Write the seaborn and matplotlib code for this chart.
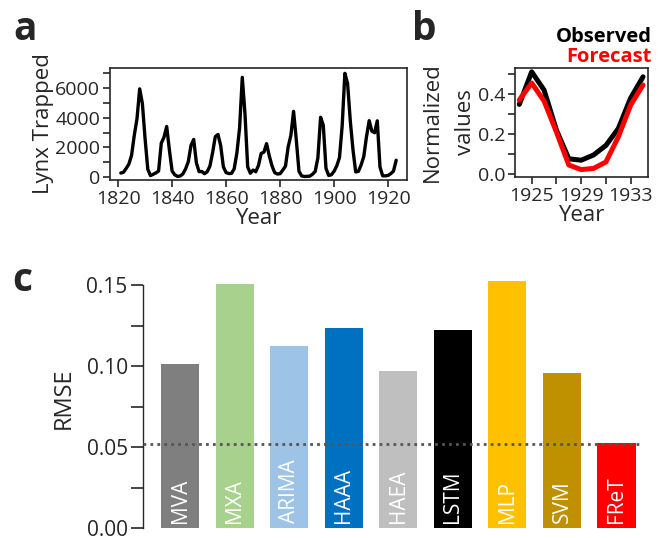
import numpy as np
import pandas as pd
import seaborn as sns
import matplotlib.pyplot as plt
from matplotlib.ticker import MultipleLocator, FormatStrFormatter

# Panel a: annual lynx trappings 1821-1923
lynx_years = list(range(1821, 1924))
lynx_counts = [269, 321, 585, 871, 1475, 2821, 3928, 5943, 4950, 2577,
               523, 98, 184, 279, 409, 2285, 2685, 3409, 1824, 409,
               151, 45, 68, 213, 546, 1033, 2129, 2536, 957, 361,
               377, 225, 360, 731, 1638, 2725, 2871, 2119, 684, 299,
               236, 245, 552, 1623, 3311, 6721, 4254, 687, 255, 473,
               358, 784, 1594, 1676, 2251, 1426, 756, 299, 201, 229,
               469, 736, 2042, 2811, 4431, 2511, 389, 73, 39, 49,
               59, 188, 377, 1292, 4031, 3495, 587, 105, 153, 387,
               758, 1307, 3465, 6991, 6313, 3794, 1836, 345, 382, 808,
               1388, 2713, 3800, 3091, 2985, 3790, 674, 81, 80, 108,
               229, 399, 1132]

# Panel b: normalized test window
test_years = list(range(1924, 1935))
observed = [0.348, 0.511, 0.420, 0.220, 0.076, 0.069, 0.095, 0.143, 0.227, 0.380, 0.486]
forecast = [0.37, 0.455, 0.365, 0.21, 0.045, 0.022, 0.028, 0.06, 0.185, 0.345, 0.445]

# Panel c: RMSE per model
models = ["MVA", "MXA", "ARIMA", "HAAA", "HAEA", "LSTM", "MLP", "SVM", "FReT"]
rmse = [0.1014, 0.1510, 0.1125, 0.1235, 0.0967, 0.1223, 0.1527, 0.0960, 0.0525]
bar_colors = ["#7f7f7f", "#a9d18e", "#9dc3e6", "#0070c0", "#bfbfbf",
              "#000000", "#ffc000", "#bf9000", "#ff0000"]
fret_level = 0.0517

sns.set_style("ticks")
plt.rcParams["font.family"] = ["Open Sans", "DejaVu Sans"]
plt.rcParams["axes.linewidth"] = 1.2
for k in ["xtick.major.width", "ytick.major.width", "xtick.minor.width", "ytick.minor.width"]:
    plt.rcParams[k] = 1.2

fig = plt.figure(figsize=(6.65, 5.38), dpi=100)

# ---- a
ax_a = fig.add_axes([0.1654, 0.6654, 0.4466, 0.2082])
df_a = pd.DataFrame({"Year": lynx_years, "Lynx": lynx_counts})
sns.lineplot(data=df_a, x="Year", y="Lynx", ax=ax_a, color="black", lw=2.4)
ax_a.set_xlim(1817, 1927)
ax_a.set_ylim(-200, 7350)
ax_a.xaxis.set_major_locator(MultipleLocator(20))
ax_a.yaxis.set_major_locator(MultipleLocator(2000))
ax_a.yaxis.set_minor_locator(MultipleLocator(1000))
ax_a.tick_params(which="both", direction="out", length=5, labelsize=14, pad=2)
ax_a.set_xlabel("Year", fontsize=16, labelpad=0)
ax_a.set_ylabel("Lynx Trapped", fontsize=16, labelpad=1)
fig.text(0.02, 0.925, "a", fontsize=28, fontweight="bold")

# ---- b
ax_b = fig.add_axes([0.7744, 0.671, 0.2, 0.2026])
df_b = pd.DataFrame({"Year": test_years + test_years,
                     "value": observed + forecast,
                     "kind": ["Observed"] * len(test_years) + ["Forecast"] * len(test_years)})
sns.lineplot(data=df_b, x="Year", y="value", hue="kind",
             palette={"Observed": "black", "Forecast": "#ff0000"},
             ax=ax_b, lw=3.6, legend=False)
ax_b.set_xlim(1923.65, 1934.4)
ax_b.set_ylim(-0.015, 0.53)
ax_b.set_xticks([1925, 1929, 1933])
ax_b.set_xticks([1927, 1931], minor=True)
ax_b.yaxis.set_major_locator(MultipleLocator(0.2))
ax_b.yaxis.set_minor_locator(MultipleLocator(0.1))
ax_b.yaxis.set_major_formatter(FormatStrFormatter("%.1f"))
ax_b.tick_params(which="both", direction="out", length=5, labelsize=14, pad=2)
ax_b.set_xlabel("Year", fontsize=16, labelpad=0)
ax_b.set_ylabel("Normalized\nvalues", fontsize=16, labelpad=1, linespacing=1.8)
ax_b.text(1.03, 1.19, "Observed", transform=ax_b.transAxes, ha="right", va="bottom",
          fontsize=14.5, fontweight="bold", color="black")
ax_b.text(1.03, 1.01, "Forecast", transform=ax_b.transAxes, ha="right", va="bottom",
          fontsize=14.5, fontweight="bold", color="#ff0000")
fig.text(0.62, 0.925, "b", fontsize=28, fontweight="bold")

# ---- c
ax_c = fig.add_axes([0.215, 0.0186, 0.749, 0.4814])
sns.barplot(x=models, y=rmse, hue=models, palette=bar_colors, legend=False,
            width=0.7, ax=ax_c, saturation=1, edgecolor="none")
ax_c.set_xlim(-0.68, 8.45)
ax_c.set_ylim(0, 0.16)
ax_c.axhline(fret_level, color="#555555", lw=2, ls=(0, (1, 1.5)), zorder=5)
for i, name in enumerate(models):
    ax_c.text(i, 0.003, name, rotation=90, ha="center", va="bottom",
              color="white", fontsize=15)
ax_c.yaxis.set_major_locator(MultipleLocator(0.05))
ax_c.yaxis.set_minor_locator(MultipleLocator(0.025))
ax_c.yaxis.set_major_formatter(FormatStrFormatter("%.2f"))
ax_c.tick_params(axis="y", which="both", direction="out", length=9, labelsize=15, pad=2)
ax_c.set_xticks([])
for s in ["top", "right", "bottom"]:
    ax_c.spines[s].set_visible(False)
ax_c.spines["left"].set_bounds(0, 0.15)
ax_c.spines["left"].set_linewidth(1.0)
ax_c.set_ylabel("RMSE", fontsize=17, labelpad=8)
fig.text(0.018, 0.46, "c", fontsize=28, fontweight="bold")

fig.savefig("out.png", dpi=100)
